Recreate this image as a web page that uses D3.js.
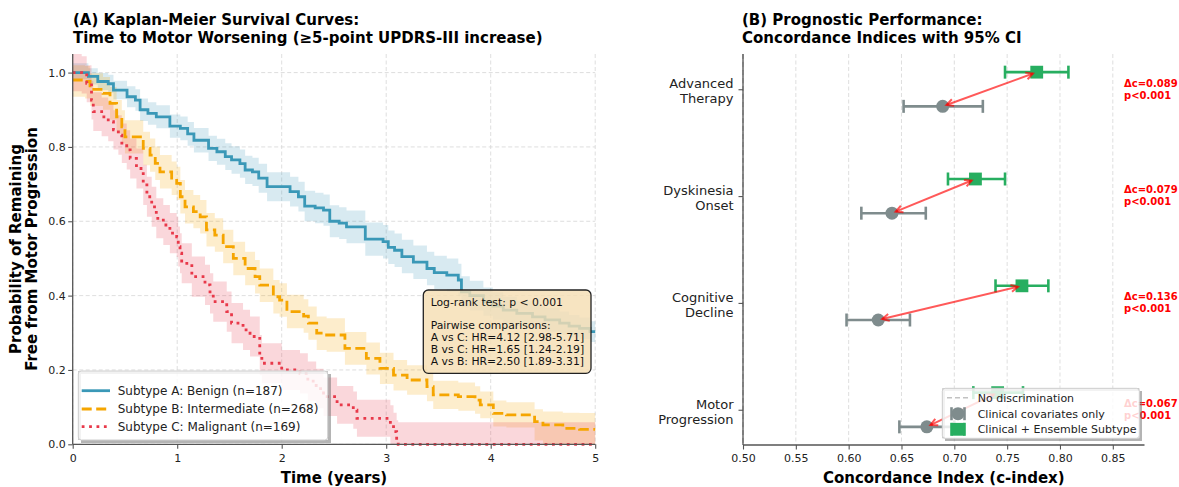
<!DOCTYPE html>
<html>
<head>
<meta charset="utf-8">
<script src="https://cdn.jsdelivr.net/npm/d3@7"></script>
<style>
  body { margin: 0; background: #fff; }
  text { font-family: "DejaVu Sans", sans-serif; }
</style>
</head>
<body>
<script>
// ---- panel A: Kaplan-Meier step curves ----
var timeA = [0, 0.15, 0.24, 0.34, 0.39, 0.52, 0.60, 0.645, 0.72, 0.80, 0.93, 1.03, 1.10, 1.16, 1.30, 1.38, 1.46, 1.52, 1.60, 1.65, 1.72, 1.78, 1.86, 2.08, 2.16, 2.22, 2.32, 2.40, 2.46, 2.55, 2.62, 2.80, 2.97, 3.02, 3.08, 3.15, 3.26, 3.39, 3.46, 3.58, 3.69, 3.72, 3.80, 3.93, 4.02, 4.12, 4.25, 4.40, 4.52, 4.66, 4.75, 4.85, 4.95, 5.0];
var survA = [1.0, 0.99, 0.976, 0.97, 0.953, 0.935, 0.926, 0.90, 0.89, 0.881, 0.856, 0.85, 0.835, 0.818, 0.796, 0.787, 0.774, 0.765, 0.755, 0.738, 0.733, 0.716, 0.693, 0.68, 0.666, 0.641, 0.636, 0.630, 0.60, 0.595, 0.585, 0.552, 0.545, 0.53, 0.522, 0.505, 0.49, 0.473, 0.462, 0.455, 0.442, 0.41, 0.40, 0.384, 0.372, 0.361, 0.352, 0.343, 0.335, 0.326, 0.318, 0.312, 0.303, 0.303];
var lowA  = [0.982, 0.968, 0.953, 0.946, 0.928, 0.907, 0.897, 0.87, 0.86, 0.85, 0.825, 0.818, 0.803, 0.785, 0.762, 0.752, 0.738, 0.728, 0.717, 0.70, 0.695, 0.677, 0.654, 0.64, 0.626, 0.60, 0.595, 0.588, 0.557, 0.552, 0.541, 0.507, 0.50, 0.485, 0.477, 0.46, 0.445, 0.428, 0.417, 0.41, 0.398, 0.368, 0.36, 0.346, 0.335, 0.325, 0.318, 0.31, 0.303, 0.295, 0.288, 0.283, 0.275, 0.275];
var highA = [1.025, 1.012, 0.999, 0.994, 0.978, 0.963, 0.955, 0.93, 0.92, 0.912, 0.887, 0.882, 0.867, 0.851, 0.830, 0.822, 0.810, 0.802, 0.793, 0.776, 0.771, 0.755, 0.732, 0.72, 0.706, 0.682, 0.677, 0.672, 0.643, 0.638, 0.629, 0.597, 0.59, 0.575, 0.567, 0.55, 0.535, 0.518, 0.507, 0.50, 0.486, 0.452, 0.44, 0.422, 0.409, 0.397, 0.386, 0.376, 0.367, 0.357, 0.348, 0.341, 0.331, 0.331];

var timeB = [0, 0.118, 0.166, 0.29, 0.357, 0.42, 0.47, 0.50, 0.675, 0.74, 0.79, 0.835, 0.947, 0.995, 1.03, 1.075, 1.155, 1.22, 1.28, 1.36, 1.44, 1.537, 1.65, 1.745, 1.79, 1.92, 1.98, 2.05, 2.21, 2.255, 2.335, 2.43, 2.605, 2.81, 2.94, 3.07, 3.20, 3.39, 3.45, 3.69, 3.85, 3.90, 4.025, 4.15, 4.42, 4.50, 4.69, 4.85, 5.0];
var survB = [0.98, 0.976, 0.955, 0.944, 0.917, 0.881, 0.854, 0.827, 0.796, 0.778, 0.756, 0.733, 0.716, 0.702, 0.666, 0.639, 0.626, 0.612, 0.577, 0.563, 0.532, 0.50, 0.473, 0.451, 0.428, 0.397, 0.388, 0.357, 0.345, 0.326, 0.299, 0.294, 0.258, 0.231, 0.204, 0.186, 0.173, 0.155, 0.133, 0.128, 0.119, 0.106, 0.083, 0.079, 0.061, 0.052, 0.043, 0.040, 0.040];
var lowB  = [0.935, 0.93, 0.91, 0.90, 0.873, 0.836, 0.809, 0.782, 0.751, 0.733, 0.711, 0.688, 0.671, 0.657, 0.621, 0.594, 0.581, 0.567, 0.532, 0.518, 0.487, 0.455, 0.428, 0.406, 0.383, 0.352, 0.343, 0.312, 0.30, 0.281, 0.254, 0.249, 0.214, 0.188, 0.162, 0.145, 0.133, 0.116, 0.095, 0.09, 0.082, 0.07, 0.048, 0.045, 0.01, 0, 0, 0, 0];
var highB = [1.02, 1.018, 0.998, 0.988, 0.961, 0.926, 0.899, 0.872, 0.841, 0.823, 0.801, 0.778, 0.761, 0.747, 0.711, 0.684, 0.671, 0.657, 0.622, 0.608, 0.577, 0.545, 0.518, 0.496, 0.473, 0.442, 0.433, 0.402, 0.39, 0.371, 0.344, 0.339, 0.302, 0.274, 0.246, 0.227, 0.213, 0.194, 0.171, 0.166, 0.156, 0.142, 0.118, 0.113, 0.094, 0.088, 0.085, 0.084, 0.084];

var timeC = [0, 0.086, 0.134, 0.18, 0.197, 0.277, 0.34, 0.39, 0.437, 0.47, 0.517, 0.55, 0.61, 0.675, 0.71, 0.756, 0.80, 0.867, 0.93, 0.995, 1.01, 1.027, 1.043, 1.14, 1.266, 1.314, 1.345, 1.474, 1.52, 1.63, 1.697, 1.79, 1.81, 2.0, 2.175, 2.25, 2.33, 2.40, 2.53, 2.685, 2.72, 3.04, 3.07, 3.10, 3.115, 5.0];
var survC = [1.0, 0.994, 0.971, 0.926, 0.895, 0.881, 0.868, 0.846, 0.832, 0.81, 0.792, 0.769, 0.742, 0.698, 0.666, 0.639, 0.608, 0.59, 0.568, 0.558, 0.532, 0.514, 0.487, 0.451, 0.429, 0.406, 0.384, 0.357, 0.326, 0.308, 0.29, 0.24, 0.218, 0.20, 0.191, 0.17, 0.15, 0.128, 0.106, 0.092, 0.07, 0.052, 0.034, 0.012, 0, 0];
var lowC  = [0.95, 0.944, 0.92, 0.874, 0.843, 0.829, 0.815, 0.793, 0.779, 0.757, 0.739, 0.715, 0.688, 0.644, 0.612, 0.585, 0.554, 0.536, 0.514, 0.504, 0.478, 0.46, 0.433, 0.397, 0.375, 0.352, 0.33, 0.303, 0.272, 0.254, 0.236, 0.186, 0.164, 0.146, 0.137, 0.117, 0.097, 0.076, 0.055, 0.042, 0.02, 0, 0, 0, 0, 0];
var highC = [1.05, 1.044, 1.02, 0.978, 0.947, 0.933, 0.921, 0.899, 0.885, 0.863, 0.845, 0.823, 0.796, 0.752, 0.72, 0.693, 0.662, 0.644, 0.622, 0.612, 0.586, 0.568, 0.541, 0.505, 0.483, 0.46, 0.438, 0.411, 0.38, 0.362, 0.344, 0.294, 0.272, 0.254, 0.245, 0.223, 0.203, 0.18, 0.157, 0.142, 0.12, 0.105, 0.085, 0.065, 0.059, 0.059];

var subtypeNames = ["Subtype A: Benign (n=187)", "Subtype B: Intermediate (n=268)", "Subtype C: Malignant (n=169)"];
var subtypeColors = ["#3a98b7", "#f5a500", "#e8394a"];
var timeTicks = [0, 1, 2, 3, 4, 5];
var survTicks = [0, 0.2, 0.4, 0.6, 0.8, 1.0];
var statLines = ["Log-rank test: p < 0.001", "", "Pairwise comparisons:", "A vs C: HR=4.12 [2.98-5.71]", "B vs C: HR=1.65 [1.24-2.19]", "A vs B: HR=2.50 [1.89-3.31]"];

// ---- panel B: concordance indices (bottom to top) ----
var outcomes = [["Motor", "Progression"], ["Cognitive", "Decline"], ["Dyskinesia", "Onset"], ["Advanced", "Therapy"]];
var clinC  = [0.674, 0.628, 0.641, 0.689];
var clinLo = [0.648, 0.598, 0.612, 0.652];
var clinHi = [0.700, 0.658, 0.673, 0.727];
var ensC   = [0.741, 0.764, 0.720, 0.778];
var ensLo  = [0.718, 0.739, 0.694, 0.748];
var ensHi  = [0.765, 0.789, 0.748, 0.808];
var deltaText = ["Δc=0.067", "Δc=0.136", "Δc=0.079", "Δc=0.089"];
var pText = ["p<0.001", "p<0.001", "p<0.001", "p<0.001"];
var cTicks = [0.50, 0.55, 0.60, 0.65, 0.70, 0.75, 0.80, 0.85];

var gray = "#7f8c8d", green = "#27ae60";

var svg = d3.select("body").append("svg").attr("width", 1179).attr("height", 487);
svg.append("rect").attr("width", 1179).attr("height", 487).attr("fill", "#fff");

function styleAxis(g, size) {
  g.select(".domain").attr("stroke", "#555").attr("stroke-width", 1.3);
  g.selectAll(".tick line").attr("stroke", "#555").attr("stroke-width", 1.1);
  g.selectAll(".tick text").attr("font-size", size).attr("fill", "#222")
    .attr("font-family", "DejaVu Sans");
}

// ================= Panel A =================
var x1 = d3.scaleLinear().domain([0, 5]).range([72.7, 595.2]);
var y1 = d3.scaleLinear().domain([0, 1.05]).range([444.3, 54]);

var gA = svg.append("g");
gA.selectAll(".vg").data(timeTicks).enter().append("line")
  .attr("x1", d => x1(d)).attr("x2", d => x1(d)).attr("y1", y1(1.05)).attr("y2", y1(0))
  .attr("stroke", "#d5d5d5").attr("stroke-width", 0.8).attr("stroke-dasharray", "4,2.5");
gA.selectAll(".hg").data(survTicks).enter().append("line")
  .attr("x1", x1(0)).attr("x2", x1(5)).attr("y1", d => y1(d)).attr("y2", d => y1(d))
  .attr("stroke", "#d5d5d5").attr("stroke-width", 0.8).attr("stroke-dasharray", "4,2.5");

var curves = [
  {t: timeA, s: survA, lo: lowA, hi: highA, dash: null},
  {t: timeB, s: survB, lo: lowB, hi: highB, dash: "10,4.5"},
  {t: timeC, s: survC, lo: lowC, hi: highC, dash: "2.8,4.6"}
];
curves.forEach(function (c, k) {
  c.pts = c.t.map(function (t, i) { return {t: t, s: c.s[i], lo: c.lo[i], hi: c.hi[i]}; });
});

var band = d3.area().curve(d3.curveStepAfter)
  .x(d => x1(d.t)).y0(d => y1(d.lo)).y1(d => y1(d.hi));
var line = d3.line().curve(d3.curveStepAfter)
  .x(d => x1(d.t)).y(d => y1(d.s));

curves.forEach(function (c, k) {
  gA.append("path").attr("d", band(c.pts)).attr("fill", subtypeColors[k]).attr("opacity", 0.2);
});
curves.forEach(function (c, k) {
  var p = gA.append("path").attr("d", line(c.pts)).attr("fill", "none")
    .attr("stroke", subtypeColors[k]).attr("stroke-width", 2.8);
  if (c.dash) p.attr("stroke-dasharray", c.dash);
});

var axA = gA.append("g").attr("transform", "translate(0," + y1(0) + ")")
  .call(d3.axisBottom(x1).tickValues(timeTicks).tickFormat(d3.format("d")).tickSize(4.5).tickSizeOuter(0).tickPadding(5));
styleAxis(axA, 11);
var ayA = gA.append("g").attr("transform", "translate(" + x1(0) + ",0)")
  .call(d3.axisLeft(y1).tickValues(survTicks).tickFormat(d3.format(".1f")).tickSize(4.5).tickSizeOuter(0).tickPadding(2.5));
styleAxis(ayA, 11);
ayA.select(".domain").attr("d", "M0," + y1(1.05) + "V" + y1(0));
axA.select(".domain").attr("d", "M" + x1(0) + ",0H" + x1(5));

// stats box
var box = gA.append("g");
box.append("rect").attr("x", 423.3).attr("y", 290).attr("width", 167.7).attr("height", 83.3)
  .attr("rx", 5).attr("fill", "#f5deb3").attr("fill-opacity", 0.82)
  .attr("stroke", "#222").attr("stroke-width", 1.3);
var statY = [305.6, 317.3, 329, 341.2, 353.2, 365];
box.selectAll("text").data(statLines).enter().append("text")
  .attr("x", 430.7).attr("y", (d, i) => statY[i]).attr("font-size", 10.8).attr("fill", "#111").text(d => d);

// legend A
var legA = gA.append("g");
legA.append("path")
  .attr("d", "M81,374H331V443H81Z M78.3,371H327.7V440H78.3Z").attr("fill-rule", "evenodd")
  .attr("fill", "#777").attr("opacity", 0.55);
legA.append("rect").attr("x", 78.3).attr("y", 371).attr("width", 249.4).attr("height", 69)
  .attr("rx", 3).attr("fill", "#fff").attr("fill-opacity", 0.82).attr("stroke", "#cfcfcf");
var legAY = [390.7, 409, 426.7];
subtypeNames.forEach(function (n, k) {
  var l = legA.append("line").attr("x1", 81.7).attr("x2", 110).attr("y1", legAY[k]).attr("y2", legAY[k])
    .attr("stroke", subtypeColors[k]).attr("stroke-width", 2.8);
  if (curves[k].dash) l.attr("stroke-dasharray", curves[k].dash);
  legA.append("text").attr("x", 117.7).attr("y", legAY[k] + 4.4).attr("font-size", 12).attr("fill", "#222").text(n);
});

svg.append("text").attr("x", 73).attr("y", 25).attr("font-size", 15).attr("font-weight", "bold")
  .text("(A) Kaplan-Meier Survival Curves:");
svg.append("text").attr("x", 73).attr("y", 43).attr("font-size", 15).attr("font-weight", "bold")
  .text("Time to Motor Worsening (≥5-point UPDRS-III increase)");
svg.append("text").attr("x", (x1(0) + x1(5)) / 2).attr("y", 482.5).attr("text-anchor", "middle")
  .attr("font-size", 15).attr("font-weight", "bold").text("Time (years)");
[["Probability of Remaining", 21], ["Free from Motor Progression", 37]].forEach(function (d) {
  svg.append("text").attr("transform", "translate(" + d[1] + ",249) rotate(-90)")
    .attr("text-anchor", "middle").attr("font-size", 15).attr("font-weight", "bold").text(d[0]);
});

// ================= Panel B =================
var x2 = d3.scaleLinear().domain([0.5, 0.88]).range([743, 1144.5]);
var y2 = d3.scaleLinear().domain([-0.33, 3.33]).range([445, 54]);
var off = 0.16;

var gB = svg.append("g");
gB.selectAll(".vg").data(cTicks).enter().append("line")
  .attr("x1", d => x2(d)).attr("x2", d => x2(d)).attr("y1", y2(3.33)).attr("y2", y2(-0.33))
  .attr("stroke", "#d5d5d5").attr("stroke-width", 0.8).attr("stroke-dasharray", "4,2.5");
gB.append("line").attr("x1", x2(0.5)).attr("x2", x2(0.5)).attr("y1", y2(3.33)).attr("y2", y2(-0.33))
  .attr("stroke", "#999").attr("stroke-opacity", 0.6).attr("stroke-width", 1.5).attr("stroke-dasharray", "5,3");

var axB = gB.append("g").attr("transform", "translate(0," + y2(-0.33) + ")")
  .call(d3.axisBottom(x2).tickValues(cTicks).tickFormat(d3.format(".2f")).tickSize(4.5).tickSizeOuter(0).tickPadding(5));
styleAxis(axB, 11);
axB.select(".domain").attr("d", "M" + x2(0.5) + ",0H" + x2(0.88));
var ayB = gB.append("g").attr("transform", "translate(" + x2(0.5) + ",0)")
  .call(d3.axisLeft(y2).tickValues([0, 1, 2, 3]).tickFormat("").tickSize(4.5).tickSizeOuter(0));
styleAxis(ayB, 11);
ayB.select(".domain").attr("d", "M0," + y2(3.33) + "V" + y2(-0.33));
outcomes.forEach(function (o, i) {
  var t = gB.append("text").attr("text-anchor", "end").attr("font-size", 13).attr("fill", "#222");
  t.append("tspan").attr("x", 733.5).attr("y", y2(i) - 1).text(o[0]);
  t.append("tspan").attr("x", 733.5).attr("y", y2(i) + 14).text(o[1]);
});

function errbar(g, c, lo, hi, yv, color) {
  var y = y2(yv);
  g.append("line").attr("x1", x2(lo)).attr("x2", x2(hi)).attr("y1", y).attr("y2", y)
    .attr("stroke", color).attr("stroke-width", 2.6);
  [lo, hi].forEach(function (v) {
    g.append("line").attr("x1", x2(v)).attr("x2", x2(v)).attr("y1", y - 6.5).attr("y2", y + 6.5)
      .attr("stroke", color).attr("stroke-width", 2.6);
  });
}
function arrowHead(g, px, py, ux, uy) {
  var L = 7, w = 3.5;
  var bx = px - ux * L, by = py - uy * L;
  g.append("path").attr("d", "M" + (bx - uy * w) + "," + (by + ux * w) + "L" + px + "," + py + "L" + (bx + uy * w) + "," + (by - ux * w))
    .attr("fill", "none").attr("stroke", "red").attr("stroke-opacity", 0.65).attr("stroke-width", 2);
}

outcomes.forEach(function (o, i) {
  errbar(gB, clinC[i], clinLo[i], clinHi[i], i - off, gray);
  errbar(gB, ensC[i], ensLo[i], ensHi[i], i + off, green);
  gB.append("circle").attr("cx", x2(clinC[i])).attr("cy", y2(i - off)).attr("r", 6.5).attr("fill", gray);
  gB.append("rect").attr("x", x2(ensC[i]) - 6.4).attr("y", y2(i + off) - 6.4).attr("width", 12.8).attr("height", 12.8).attr("fill", green);
  // arrow from ensemble to clinical
  var ax = x2(ensC[i]), ay = y2(i + off), bx = x2(clinC[i]), by = y2(i - off);
  var dx = bx - ax, dy = by - ay, len = Math.sqrt(dx * dx + dy * dy), ux = dx / len, uy = dy / len;
  var s = 4;
  var sx = ax + ux * s, sy = ay + uy * s, ex = bx - ux * s, ey = by - uy * s;
  gB.append("line").attr("x1", sx).attr("y1", sy).attr("x2", ex).attr("y2", ey)
    .attr("stroke", "red").attr("stroke-opacity", 0.65).attr("stroke-width", 2);
  arrowHead(gB, ex, ey, ux, uy);
  arrowHead(gB, sx, sy, -ux, -uy);
  gB.append("text").attr("x", 1124).attr("y", y2(i) - 2.6).attr("font-size", 10).attr("font-weight", "bold").attr("fill", "red").text(deltaText[i]);
  gB.append("text").attr("x", 1124).attr("y", y2(i) + 9.4).attr("font-size", 10).attr("font-weight", "bold").attr("fill", "red").text(pText[i]);
});

// legend B
var legB = gB.append("g");
legB.append("path")
  .attr("d", "M945,391H1142V441H945Z M942.3,388.3H1139.3V438.3H942.3Z").attr("fill-rule", "evenodd")
  .attr("fill", "#777").attr("opacity", 0.55);
legB.append("rect").attr("x", 942.3).attr("y", 388.3).attr("width", 197).attr("height", 50)
  .attr("rx", 3).attr("fill", "#fff").attr("fill-opacity", 0.82).attr("stroke", "#cfcfcf");
var legBY = [397.7, 413.7, 429.3];
legB.append("line").attr("x1", 947).attr("x2", 969).attr("y1", legBY[0]).attr("y2", legBY[0])
  .attr("stroke", "#999").attr("stroke-opacity", 0.6).attr("stroke-width", 1.5).attr("stroke-dasharray", "5,3");
[gray, green].forEach(function (col, k) {
  var y = legBY[k + 1];
  legB.append("line").attr("x1", 951.5).attr("x2", 964.5).attr("y1", y).attr("y2", y).attr("stroke", col).attr("stroke-width", 2.6);
  [951.5, 964.5].forEach(function (xx) {
    legB.append("line").attr("x1", xx).attr("x2", xx).attr("y1", y - 6.5).attr("y2", y + 6.5).attr("stroke", col).attr("stroke-width", 2.6);
  });
  if (k === 0) legB.append("circle").attr("cx", 958).attr("cy", y).attr("r", 6.5).attr("fill", col);
  else legB.append("rect").attr("x", 951.6).attr("y", y - 6.4).attr("width", 12.8).attr("height", 12.8).attr("fill", col);
});
["No discrimination", "Clinical covariates only", "Clinical + Ensemble Subtype"].forEach(function (n, k) {
  legB.append("text").attr("x", 977.7).attr("y", legBY[k] + 4).attr("font-size", 11).attr("fill", "#222").text(n);
});

svg.append("text").attr("x", 742).attr("y", 25).attr("font-size", 15).attr("font-weight", "bold")
  .text("(B) Prognostic Performance:");
svg.append("text").attr("x", 742).attr("y", 43).attr("font-size", 15).attr("font-weight", "bold")
  .text("Concordance Indices with 95% CI");
svg.append("text").attr("x", (x2(0.5) + x2(0.88)) / 2).attr("y", 482.5).attr("text-anchor", "middle")
  .attr("font-size", 15).attr("font-weight", "bold").text("Concordance Index (c-index)");
</script>
</body>
</html>
